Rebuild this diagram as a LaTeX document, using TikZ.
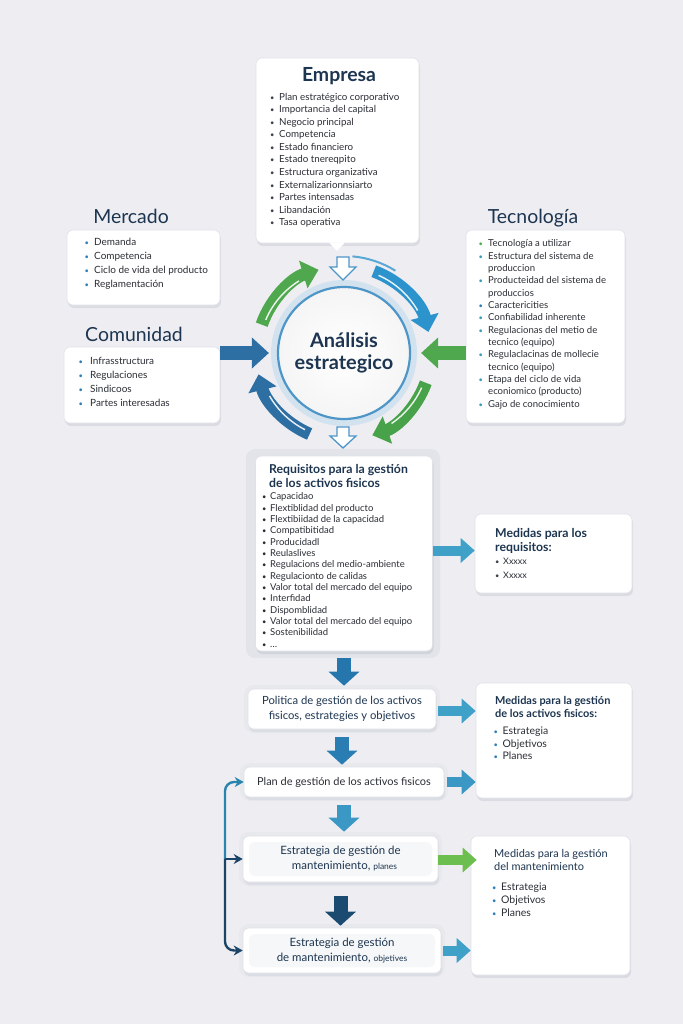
\documentclass[tikz,border=0pt]{standalone}
\usepackage{fontspec}
\setmainfont{Lato}
\usetikzlibrary{arrows.meta,shadows,calc}
\definecolor{bg}{HTML}{EEEEF2}
\definecolor{navy}{HTML}{1D3550}
\definecolor{txt}{HTML}{2A2E35}
\definecolor{bulG}{HTML}{4CAF50}
\definecolor{bulB}{HTML}{2F80B8}
\definecolor{bulT}{HTML}{3A9CBB}
\definecolor{bulD}{HTML}{3E4550}
\definecolor{boxline}{HTML}{DFE2E8}
\definecolor{shadowc}{HTML}{7A8396}
\definecolor{framec}{HTML}{DDE0E6}
\definecolor{insetc}{HTML}{F6F7F9}
\definecolor{ringG}{HTML}{4FA84E}
\definecolor{ringG2}{HTML}{48A24A}
\definecolor{ringB}{HTML}{2C93CC}
\definecolor{ringBL}{HTML}{5AA8D6}
\definecolor{ringBD}{HTML}{2D6FA3}
\definecolor{circB}{HTML}{4E96C8}
\definecolor{circGlow}{HTML}{D3E2EF}
\definecolor{arrA}{HTML}{2676AE}
\definecolor{arrB}{HTML}{2A7DB3}
\definecolor{arrC}{HTML}{3B98C4}
\definecolor{arrD}{HTML}{1C4B72}
\definecolor{arrT}{HTML}{3FA0C8}
\definecolor{arrGr}{HTML}{6CBF4E}
\definecolor{fbTop}{HTML}{2B84AE}
\definecolor{fbBot}{HTML}{1B4466}
\newcommand\bi[3]{\makebox[#2][l]{\textcolor{#1}{\fontsize{7.5}{7}\selectfont\textbullet}}#3}
\begin{document}
\begin{tikzpicture}[x=1bp,y=-1bp,
  box/.style={draw=boxline, line width=0.6bp, fill=white, rounded corners=6bp, inner sep=0pt,
    drop shadow={shadow xshift=1bp, shadow yshift=-3bp, opacity=0.16, fill=shadowc}},
  halo/.style={preaction={draw=framec, line width=8bp, opacity=0.35}},
  inset/.style={path picture={\fill[insetc] ($(path picture bounding box.north west)+(6,6)$) rectangle ($(path picture bounding box.south east)+(-6,-6)$);}},
  headt/.style={text=navy, font=\fontsize{19.5}{22}\selectfont, anchor=base, inner sep=0pt},
  lst/.style={anchor=north west, align=left, inner sep=0pt, text=txt},
  dn/.style={line width=14bp, -{Triangle[width=30bp,length=14bp]}},
  rt/.style={line width=10bp, -{Triangle[width=24bp,length=14bp]}},
  ring/.style={line width=12.5bp, -{Triangle[width=28bp,length=16bp]}},
  stripe/.style={draw=white, line width=1.4bp, opacity=0.9},
  fb/.style={line width=2.4bp, -{Stealth[length=9bp,width=10bp]}},
  hollow/.style={draw=circB, fill=white, line width=1.3bp, line join=miter}
]
\useasboundingbox (0,0) rectangle (683,1024);
\fill[bg] (0,0) rectangle (683,1024);

% ---------------- Empresa
\node[box, minimum width=163bp, minimum height=185bp] (emp) at (337.5,150.5) {};
\fill[white] (329,242.4) -- (345,242.4) -- (337,251) -- cycle;
\node[headt, font=\fontsize{19.5}{22}\selectfont\bfseries] (empt) at (339,81) {Empresa};
\node[lst, font=\fontsize{9.8}{12.6}\selectfont] (empl) at (270,91.2) {%
\strut\bi{bulD}{9bp}{Plan estratégico corporativo}\\
\bi{bulD}{9bp}{Importancia del capital}\\
\bi{bulD}{9bp}{Negocio principal}\\
\bi{bulD}{9bp}{Competencia}\\
\bi{bulD}{9bp}{Estado financiero}\\
\bi{bulD}{9bp}{Estado tnereqpito}\\
\bi{bulD}{9bp}{Estructura organizativa}\\
\bi{bulD}{9bp}{Externalizarionnsiarto}\\
\bi{bulD}{9bp}{Partes intensadas}\\
\bi{bulD}{9bp}{Libandación}\\
\bi{bulD}{9bp}{Tasa operativa}};

% ---------------- Mercado
\node[headt] (mert) at (131,223) {Mercado};
\node[box, minimum width=153bp, minimum height=75bp] (mer) at (143.5,267.5) {};
\node[lst, font=\fontsize{10}{14}\selectfont] (merl) at (84.5,235.7) {%
\strut\bi{bulB}{9.5bp}{Demanda}\\
\bi{bulB}{9.5bp}{Competencia}\\
\bi{bulB}{9.5bp}{Ciclo de vida del producto}\\
\bi{bulB}{9.5bp}{Reglamentación}};

% ---------------- Comunidad
\node[headt] (comt) at (134,341) {Comunidad};
\node[box, minimum width=156bp, minimum height=76bp] (com) at (142,385) {};
\node[lst, font=\fontsize{10}{14}\selectfont] (coml) at (78.5,354.7) {%
\strut\bi{bulB}{11.5bp}{Infrasstructura}\\
\bi{bulB}{11.5bp}{Regulaciones}\\
\bi{bulB}{11.5bp}{Sindicoos}\\
\bi{bulB}{11.5bp}{Partes interesadas}};

% ---------------- Tecnologia
\node[headt] (tect) at (533,223) {Tecnología};
\node[box, minimum width=159bp, minimum height=193bp] (tec) at (545.5,326.5) {};
\node[lst, font=\fontsize{9.6}{12.4}\selectfont] (tecl) at (478.5,237.8) {%
\strut\bi{bulG}{9.5bp}{Tecnología a utilizar}\\
\bi{bulT}{9.5bp}{Estructura del sistema de}\\
\hspace*{9.5bp}produccion\\
\bi{bulT}{9.5bp}{Producteidad del sistema de}\\
\hspace*{9.5bp}produccios\\
\bi{bulB}{9.5bp}{Caractericities}\\
\bi{bulT}{9.5bp}{Confiabilidad inherente}\\
\bi{bulT}{9.5bp}{Regulacionas del metio de}\\
\hspace*{9.5bp}tecnico (equipo)\\
\bi{bulT}{9.5bp}{Regulaclacinas de mollecie}\\
\hspace*{9.5bp}tecnico (equipo)\\
\bi{bulT}{9.5bp}{Etapa del ciclo de vida}\\
\hspace*{9.5bp}econiomico (producto)\\
\bi{bulT}{9.5bp}{Gajo de conocimiento}};

% ---------------- Central circle and ring
\coordinate (C) at (344,353);
\draw[circGlow, line width=6bp] (C) circle[radius=70];
\node[circle, minimum size=132bp, inner sep=0pt, draw=circB, line width=2.2bp,
      inner color=white, outer color=black!4, align=center, text=navy,
      font=\fontsize{20}{22.5}\selectfont\bfseries] (circ) at (C) {Análisis\\estrategico};

% ring arrows (clockwise)
\draw[ring, ringG] (C) ++(199:87) arc[start angle=199, end angle=253, radius=87];
\draw[stripe] (C) ++(203:85) arc[start angle=203, end angle=238, radius=85];
\draw[ringBL, line width=2bp] (C) ++(275:97) arc[start angle=275, end angle=302, radius=97];
\draw[ring, ringB] (C) ++(290:87) arc[start angle=290, end angle=346, radius=87];
\draw[stripe] (C) ++(294:85) arc[start angle=294, end angle=330, radius=85];
\draw[ring, ringG2] (C) ++(20:87) arc[start angle=20, end angle=71, radius=87];
\draw[stripe] (C) ++(24:85) arc[start angle=24, end angle=56, radius=85];
\draw[ring, ringBD] (C) ++(113:88) arc[start angle=113, end angle=166, radius=88];
\draw[stripe] (C) ++(117:86) arc[start angle=117, end angle=150, radius=86];

% straight arrows into circle
\draw[line width=14bp, ringBD, -{Triangle[width=30bp,length=17bp]}, shorten >=8bp] (com.east |- circ.west) -- (circ.west);
\draw[line width=14bp, ringG, -{Triangle[width=30bp,length=17bp]}, shorten >=10bp] (tec.west |- circ.east) -- (circ.east);

% hollow arrows
\draw[hollow] (337,257) -- (349,257) -- (349,267) -- (356,267) -- (343,280) -- (330,267) -- (337,267) -- cycle;
\draw[hollow] (337,427) -- (349,427) -- (349,436) -- (356,436) -- (343,448) -- (330,436) -- (337,436) -- cycle;

% ---------------- Requisitos
\fill[framec, opacity=0.7, rounded corners=9bp] (246,449) rectangle (440,658);
\node[box, minimum width=177bp, minimum height=195bp] (req) at (344,553.5) {};
\node[lst, text=navy, font=\fontsize{12.3}{14}\selectfont\bfseries] (reqt) at (269,463.7) {%
\strut Requisitos para la gestión\\ de los activos fisicos};
\node[lst, font=\fontsize{9.5}{11.4}\selectfont] (reql) at (262,491.5) {%
\strut\bi{txt}{8bp}{Capacidao}\\
\bi{txt}{8bp}{Flextiblidad del producto}\\
\bi{txt}{8bp}{Flextibiidad de la capacidad}\\
\bi{txt}{8bp}{Compatibitidad}\\
\bi{txt}{8bp}{Producidadl}\\
\bi{txt}{8bp}{Reulaslives}\\
\bi{txt}{8bp}{Regulacions del medio-ambiente}\\
\bi{txt}{8bp}{Regulacionto de calidas}\\
\bi{txt}{8bp}{Valor total del mercado del equipo}\\
\bi{txt}{8bp}{Interfidad}\\
\bi{txt}{8bp}{Dispomblidad}\\
\bi{txt}{8bp}{Valor total del mercado del equipo}\\
\bi{txt}{8bp}{Sostenibilidad}\\
\bi{txt}{8bp}{\dots}};

% ---------------- Medidas 1
\node[box, minimum width=157bp, minimum height=79bp] (med1) at (553.5,553.5) {};
\node[lst, text=navy, font=\fontsize{12.3}{14}\selectfont\bfseries] (med1t) at (495,527.7) {%
\strut Medidas para los\\ requisitos:};
\node[lst, font=\fontsize{9}{14}\selectfont] (med1l) at (495,554.7) {%
\strut\bi{bulD}{8bp}{Xxxxx}\\
\bi{bulD}{8bp}{Xxxxx}};

% ---------------- Politica
\node[box, halo, minimum width=188bp, minimum height=40bp, align=center, text=navy,
      font=\fontsize{11.3}{14.5}\selectfont] (pol) at (342,709)
      {Politica de gestión de los activos\\ fisicos, estrategies y objetivos};

% ---------------- Medidas 2
\node[box, minimum width=156bp, minimum height=115bp] (med2) at (554,740.5) {};
\node[lst, text=navy, font=\fontsize{11}{12.5}\selectfont\bfseries] (med2t) at (495,695.8) {%
\strut Medidas para la gestión\\ de los activos fisicos:};
\node[lst, font=\fontsize{10.5}{12.5}\selectfont] (med2l) at (493.5,725.8) {%
\strut\bi{bulB}{9bp}{Estrategia}\\
\bi{bulB}{9bp}{Objetivos}\\
\bi{bulB}{9bp}{Planes}};

% ---------------- Plan
\node[box, halo, minimum width=200bp, minimum height=30bp, text=txt,
      font=\fontsize{11}{13}\selectfont] (plan) at (344,782)
      {Plan de gestión de los activos fisicos};

% ---------------- Estrategia planes
\node[box, halo, inset, minimum width=195bp, minimum height=46bp, align=center, text=navy,
      font=\fontsize{11.5}{15}\selectfont] (ep) at (340.5,859)
      {Estrategia de gestión de\\ \hspace*{8bp}mantenimiento, {\fontsize{8.5}{10}\selectfont planes}};

% ---------------- Medidas 3
\node[box, minimum width=159bp, minimum height=139bp] (med3) at (550.5,905.5) {};
\node[lst, text=navy, font=\fontsize{11}{13}\selectfont] (med3t) at (494,847.9) {%
\strut Medidas para la gestión\\ del mantenimiento};
\node[lst, font=\fontsize{10.5}{13}\selectfont] (med3l) at (492,880.9) {%
\strut\bi{bulB}{9bp}{Estrategia}\\
\bi{bulB}{9bp}{Objetivos}\\
\bi{bulB}{9bp}{Planes}};

% ---------------- Estrategia objetivos
\node[box, halo, inset, minimum width=198bp, minimum height=45bp, align=center, text=navy,
      font=\fontsize{11.5}{15}\selectfont] (eo) at (342,950.5)
      {Estrategia de gestión\\ de mantenimiento, {\fontsize{8.5}{10}\selectfont objetives}};

% ---------------- vertical block arrows
\draw[dn, arrA, shorten <=7bp, shorten >=3bp] (req.south) -- (req.south |- pol.north);
\draw[dn, arrB, shorten <=8bp, shorten >=2bp] (pol.south) -- (pol.south |- plan.north);
\draw[dn, arrC, shorten <=8bp, shorten >=4bp] (plan.south) -- (plan.south |- ep.north);
\draw[dn, arrD, shorten <=14bp, shorten >=2bp] (ep.south) -- (ep.south |- eo.north);

% ---------------- horizontal arrows
\draw[rt, arrT] ($(req.east)+(0,-3)$) -- ($(req.east -| med1.west)+(0,-3)$);
\draw[rt, arrT, shorten <=2bp] ($(pol.east)+(0,2)$) -- ($(pol.east -| med2.west)+(0,2)$);
\draw[rt, arrC, shorten <=3bp] (plan.east) -- (plan.east -| med2.west);
\draw[rt, arrGr, shorten >=-6bp] ($(ep.east)+(0,1)$) -- ($(ep.east -| med3.west)+(0,1)$);
\draw[rt, arrT, shorten <=2bp] (eo.east) -- (eo.east -| med3.west);

% ---------------- feedback bracket
\coordinate (fbx) at (225,859);
\draw[fb, fbTop, rounded corners=9bp] (fbx) |- (plan.west);
\draw[fb, fbBot, rounded corners=9bp] (fbx) |- (eo.west);
\draw[fb, fbBot] (fbx) -- (ep.west);
\end{tikzpicture}
\end{document}
